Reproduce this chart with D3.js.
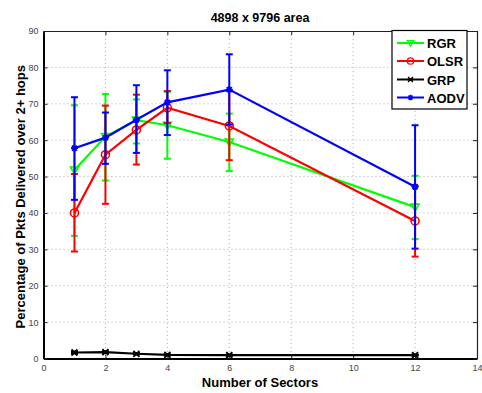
<!DOCTYPE html>
<html>
<head>
<meta charset="utf-8">
<script src="https://cdn.jsdelivr.net/npm/d3@7"></script>
<style>
  body { margin: 0; background: #fff; }
  text { font-family: "Liberation Sans", Arial, sans-serif; }
</style>
</head>
<body>
<svg id="chart" width="482" height="393"></svg>
<script>
// data
const sectors = [1, 2, 3, 4, 6, 12];

const rgrMean = [51.8, 61.0, 65.5, 64.1, 59.5, 41.6];
const rgrLow  = [33.7, 48.9, 59.1, 54.9, 51.5, 32.8];
const rgrHigh = [69.6, 72.7, 71.2, 73.3, 67.3, 50.2];

const olsrMean = [40.0, 56.0, 62.8, 68.9, 63.9, 37.8];
const olsrLow  = [29.4, 42.5, 53.3, 64.7, 54.5, 28.0];
const olsrHigh = [50.7, 69.5, 72.5, 73.5, 73.6, 47.5];

const grpMean = [1.65, 1.75, 1.3, 1.0, 0.93, 0.93];
const grpLow  = [1.4, 1.5, 1.1, 0.8, 0.75, 0.75];
const grpHigh = [1.9, 2.0, 1.5, 1.2, 1.1, 1.1];

const aodvMean = [57.8, 60.7, 65.6, 70.4, 73.9, 47.2];
const aodvLow  = [43.6, 53.5, 56.5, 61.4, 64.3, 30.2];
const aodvHigh = [71.8, 67.6, 75.1, 79.2, 83.6, 64.1];

const xTicks = [0, 2, 4, 6, 8, 10, 12, 14];
const yTicks = [0, 10, 20, 30, 40, 50, 60, 70, 80, 90];

const series = [
    { name: "RGR", color: "#00ff00", marker: "tri", mean: rgrMean, low: rgrLow, high: rgrHigh },
    { name: "OLSR", color: "#ff0000", marker: "circle", mean: olsrMean, low: olsrLow, high: olsrHigh },
    { name: "GRP", color: "#000000", marker: "x", mean: grpMean, low: grpLow, high: grpHigh },
    { name: "AODV", color: "#0000ff", marker: "star", mean: aodvMean, low: aodvLow, high: aodvHigh }
];

const svg = d3.select("#chart");
const L = 43.5, R = 477, T = 31, B = 358.5;

const x = d3.scaleLinear().domain([0, 14]).range([L, R]);
const y = d3.scaleLinear().domain([0, 90]).range([B, T]);

// grid
svg.append("g").selectAll("line")
    .data(xTicks.filter(d => d > 0 && d < 14))
    .enter().append("line")
    .attr("x1", d => x(d)).attr("x2", d => x(d))
    .attr("y1", T).attr("y2", B)
    .attr("stroke", "#999").attr("stroke-width", 0.8)
    .attr("stroke-dasharray", "1,3");

svg.append("g").selectAll("line")
    .data(yTicks.filter(d => d > 0 && d < 90))
    .enter().append("line")
    .attr("x1", L).attr("x2", R)
    .attr("y1", d => y(d)).attr("y2", d => y(d))
    .attr("stroke", "#999").attr("stroke-width", 0.8)
    .attr("stroke-dasharray", "1,3");

// axes
const xAxis = svg.append("g")
    .attr("transform", `translate(0,${B})`)
    .call(d3.axisBottom(x).tickValues(xTicks).tickSizeInner(-4).tickSizeOuter(0).tickPadding(6));
const yAxis = svg.append("g")
    .attr("transform", `translate(${L},0)`)
    .call(d3.axisLeft(y).tickValues(yTicks).tickSizeInner(-4).tickSizeOuter(0).tickPadding(5));
svg.append("g")
    .attr("transform", `translate(0,${T})`)
    .call(d3.axisTop(x).tickValues(xTicks).tickSizeInner(-4).tickSizeOuter(0).tickFormat(""));
svg.append("g")
    .attr("transform", `translate(${R},0)`)
    .call(d3.axisRight(y).tickValues(yTicks).tickSizeInner(-4).tickSizeOuter(0).tickFormat(""));

svg.selectAll(".domain").attr("stroke", "#222").attr("stroke-width", 1.2);
xAxis.select(".domain").attr("stroke-width", 2).attr("stroke", "#000");
yAxis.select(".domain").attr("stroke-width", 2).attr("stroke", "#000");
svg.selectAll(".tick line").attr("stroke", "#222");
svg.selectAll(".tick text").attr("font-size", 9).attr("fill", "#444")
    .style("font-family", "'Liberation Sans', Arial, sans-serif");

// series
const line = d3.line().x(d => x(d.x)).y(d => y(d.y));
const cap = 3.5;

series.forEach(s => {
    const pts = sectors.map((v, i) => ({ x: v, y: s.mean[i], lo: s.low[i], hi: s.high[i] }));
    const g = svg.append("g");

    const eb = g.selectAll("g.eb").data(pts).enter().append("g");
    eb.append("line")
        .attr("x1", d => x(d.x)).attr("x2", d => x(d.x))
        .attr("y1", d => y(d.lo)).attr("y2", d => y(d.hi))
        .attr("stroke", s.color).attr("stroke-width", 2);
    eb.append("line")
        .attr("x1", d => x(d.x) - cap).attr("x2", d => x(d.x) + cap)
        .attr("y1", d => y(d.lo)).attr("y2", d => y(d.lo))
        .attr("stroke", s.color).attr("stroke-width", 2);
    eb.append("line")
        .attr("x1", d => x(d.x) - cap).attr("x2", d => x(d.x) + cap)
        .attr("y1", d => y(d.hi)).attr("y2", d => y(d.hi))
        .attr("stroke", s.color).attr("stroke-width", 2);

    g.append("path").datum(pts)
        .attr("d", line)
        .attr("fill", "none")
        .attr("stroke", s.color).attr("stroke-width", 2.2);

    g.selectAll("g.mk").data(pts).enter().append("g")
        .attr("transform", d => `translate(${x(d.x)},${y(d.y)})`)
        .each(function () { drawMarker(d3.select(this), s, 1); });
});

function drawMarker(sel, s, k) {
    if (s.marker === "tri") {
        sel.append("path").attr("d", `M${-4 * k},${-3 * k}L${4 * k},${-3 * k}L0,${4 * k}Z`)
            .attr("fill", "none").attr("stroke", s.color).attr("stroke-width", 1.6);
    } else if (s.marker === "circle") {
        sel.append("circle").attr("r", 4 * k)
            .attr("fill", "none").attr("stroke", s.color).attr("stroke-width", 1.6);
    } else if (s.marker === "x") {
        sel.append("path").attr("d", `M-3,-3L3,3M-3,3L3,-3M-3.5,0L3.5,0`)
            .attr("stroke", s.color).attr("stroke-width", 1.8);
    } else {
        sel.append("path").attr("d", `M-3.5,0L3.5,0M0,-3.5L0,3.5M-2.5,-2.5L2.5,2.5M-2.5,2.5L2.5,-2.5`)
            .attr("stroke", s.color).attr("stroke-width", 1.8);
    }
}

// legend
const lg = svg.append("g");
lg.append("rect")
    .attr("x", 392).attr("y", 30.5).attr("width", 75).attr("height", 78.5)
    .attr("fill", "#fff").attr("stroke", "#000").attr("stroke-width", 1.2);
const legY = [43, 61, 79.5, 97.5];
series.forEach((s, i) => {
    const row = lg.append("g").attr("transform", `translate(0,${legY[i]})`);
    row.append("line").attr("x1", 397).attr("x2", 424).attr("y1", 0).attr("y2", 0)
        .attr("stroke", s.color).attr("stroke-width", 2);
    const m = row.append("g").attr("transform", "translate(410.5,0) scale(0.8)");
    drawMarker(m, s, 1);
    row.append("text").attr("x", 427).attr("y", 5)
        .attr("font-size", 13).attr("font-weight", "bold").text(s.name);
});

// titles
svg.append("text").attr("x", 260).attr("y", 21.5).attr("text-anchor", "middle")
    .attr("font-size", 12.5).attr("font-weight", "bold").text("4898 x 9796 area");
svg.append("text").attr("x", 260).attr("y", 387).attr("text-anchor", "middle")
    .attr("font-size", 13).attr("font-weight", "bold").text("Number of Sectors");
svg.append("text")
    .attr("transform", `translate(25,${(T + B) / 2 + 2}) rotate(-90)`)
    .attr("text-anchor", "middle")
    .attr("font-size", 13).attr("font-weight", "bold")
    .text("Percentage of Pkts Delivered over 2+ hops");
</script>
</body>
</html>
